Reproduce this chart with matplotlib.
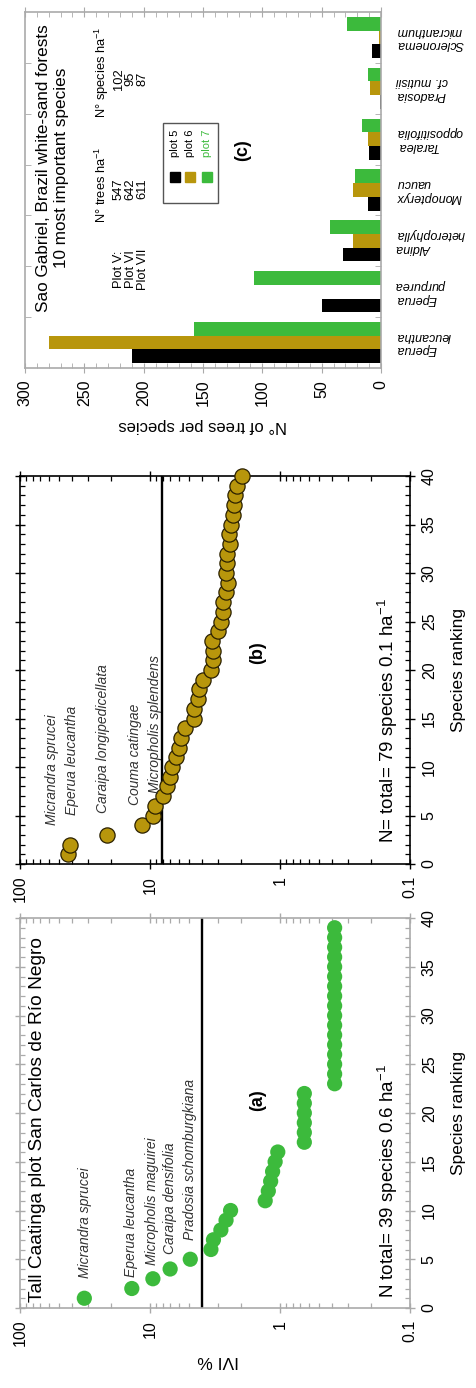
import matplotlib.pyplot as plt
import numpy as np
from matplotlib.ticker import FixedLocator, LogLocator, MultipleLocator
from matplotlib.patches import Rectangle

plt.rcParams['font.family'] = ['Liberation Sans', 'DejaVu Sans']
plt.rcParams['mathtext.fontset'] = 'custom'
plt.rcParams['mathtext.rm'] = 'Liberation Sans'
plt.rcParams['mathtext.it'] = 'Liberation Sans:italic'

# (a) Tall Caatinga plot, San Carlos de Rio Negro
rank_a = np.arange(1, 40)
ivi_a = [32, 13.8, 9.5, 7.0, 4.9, 3.4, 3.25, 2.85, 2.6, 2.4,
         1.3, 1.23, 1.18, 1.14, 1.09, 1.04,
         0.65, 0.65, 0.65, 0.65, 0.65, 0.65,
         0.38, 0.38, 0.38, 0.38, 0.38, 0.38, 0.38, 0.38, 0.38,
         0.38, 0.38, 0.38, 0.38, 0.38, 0.38, 0.38, 0.38]
ref_a = 4.0
names_a = ['Micrandra sprucei', 'Eperua leucantha', 'Micropholis maguirei',
           'Caraipa densifolia', 'Pradosia schomburgkiana']

# (b) Sao Gabriel
rank_b = np.arange(1, 41)
ivi_b = [42.5, 41.3, 21.3, 11.6, 9.4, 9.15, 8.0, 7.45, 7.0, 6.8,
         6.3, 5.95, 5.78, 5.38, 4.59, 4.59, 4.25, 4.2, 3.93, 3.41,
         3.26, 3.26, 3.32, 2.98, 2.86, 2.76, 2.76, 2.62, 2.53, 2.6,
         2.57, 2.55, 2.42, 2.45, 2.40, 2.28, 2.26, 2.22, 2.15, 1.97]
ref_b = 8.1
names_b = ['Micrandra sprucei', 'Eperua leucantha', 'Caraipa longipedicellata',
           'Couma catingae', 'Micropholis splendens']

# (c) 10 most important species
species_c = ['Eperua\nleucantha', 'Eperua\npurpurea', 'Aldina\nheterophylla',
             'Monopteryx\nuaucu', 'Taralea\noppositifolia', 'Pradosia\ncf. mutisii',
             'Scleronema\nmicranthum']
plot5 = [210, 50, 32, 11, 10, 1, 8]
plot6 = [280, 0, 24, 24, 11, 9, 2]
plot7 = [158, 107, 43, 22, 16, 11, 29]
plot_labels = ['plot 5', 'plot 6', 'plot 7']
plots = ['Plot V:', 'Plot VI', 'Plot VII']
trees_ha = [547, 642, 611]
species_ha = [102, 95, 87]

green = '#3cba3c'
gold = '#b8960c'

W, H = 476, 1388
fig = plt.figure(figsize=(W / 100, H / 100), dpi=100)


def box(x0, y0, x1, y1):
    # pixel box (top-left origin) -> figure fraction
    return [x0 / W, 1 - y1 / H, (x1 - x0) / W, (y1 - y0) / H]


def ivi_panel(ax, ranks, ivi, ref, spine_col, names, name_pos, tag, ntext):
    ax.axvline(ref, color='black', lw=1.7, zorder=2)
    if spine_col == 'black':
        ax.scatter(ivi, ranks, s=120, c=gold, edgecolors='#2a2000', linewidths=0.9,
                   zorder=3, clip_on=False)
    else:
        ax.scatter(ivi, ranks, s=120, c=green, edgecolors='none', zorder=3, clip_on=False)
    ax.set_xscale('log')
    ax.set_xlim(100, 0.1)
    ax.set_ylim(0, 40)
    ax.xaxis.set_major_locator(FixedLocator([0.1, 1, 10, 100]))
    ax.set_xticklabels(['0.1', '1', '10', '100'])
    ax.xaxis.set_minor_locator(LogLocator(base=10, subs=np.arange(2, 10)))
    ax.yaxis.set_major_locator(MultipleLocator(5))
    ax.yaxis.set_minor_locator(MultipleLocator(1))
    ax.tick_params(which='major', direction='inout', length=7, width=1,
                   top=True, bottom=True, left=True, right=True,
                   labelleft=False, labelright=True, labelsize=11.5,
                   color=spine_col, pad=5)
    ax.tick_params(which='minor', direction='in', length=3.5, width=0.9,
                   top=True, bottom=True, left=True, right=True, color=spine_col)
    ax.tick_params(axis='x', labelrotation=90)
    ax.tick_params(axis='y', labelrotation=90)
    for t in ax.get_yticklabels():
        t.set_va('center')
    for s in ax.spines.values():
        s.set_color(spine_col)
        s.set_linewidth(1.2)
    for nm, (xv, yv) in zip(names, name_pos):
        ax.text(xv, yv, nm, rotation=90, style='italic', fontsize=10,
                ha='center', va='bottom', color='#333333')
    ax.text(0.61, tag[1], tag[0], transform=ax.transAxes, rotation=90,
            fontsize=13, fontweight='bold', ha='center', va='center')
    ax.text(0.944, ntext[1], ntext[0], transform=ax.transAxes, rotation=90,
            fontsize=13.5, ha='center', va='bottom')
    ax.yaxis.set_label_position('right')
    ax.set_ylabel('Species ranking', rotation=90, fontsize=12.5, labelpad=10)


# panel (a)
ax_a = fig.add_axes(box(20, 918, 410, 1308))
ivi_panel(ax_a, rank_a, ivi_a, ref_a, '#aaaaaa', names_a,
          [(31.6, 3.1), (13.9, 3.2), (9.7, 4.4), (7.0, 5.5), (4.9, 7.0)],
          ('(a)', 0.533), (r'N total= 39 species 0.6 ha$^{-1}$', 0.026))
ax_a.text(0.044, 0.015, 'Tall Caatinga plot San Carlos de Río Negro',
          transform=ax_a.transAxes, rotation=90, fontsize=13.8,
          ha='center', va='bottom')
fig.text(218 / W, 1 - 1360 / H, 'IVI %', rotation=180, fontsize=12.5,
         ha='center', va='center')

# panel (b)
ax_b = fig.add_axes(box(20, 476, 410, 864))
ivi_panel(ax_b, rank_b, ivi_b, ref_b, 'black', names_b,
          [(56.7, 4.0), (40, 5.05), (23, 5.26), (13, 6.1), (9.2, 7.3)],
          ('(b)', 0.546), (r'N= total= 79 species 0.1 ha$^{-1}$', 0.054))

# panel (c)
ax_c = fig.add_axes(box(25, 12, 381, 368))
pos = np.arange(len(species_c))
bw = 0.27
ax_c.barh(pos - bw, plot5, height=bw, color='black', zorder=2)
ax_c.barh(pos, plot6, height=bw, color=gold, zorder=2)
ax_c.barh(pos + bw, plot7, height=bw, color=green, zorder=2)
ax_c.set_xlim(300, 0)
ax_c.set_ylim(-0.5, len(species_c) - 0.5)
ax_c.xaxis.set_major_locator(MultipleLocator(50))
ax_c.xaxis.set_minor_locator(MultipleLocator(10))
ax_c.set_yticks(pos)
ax_c.set_yticklabels(species_c)
ax_c.yaxis.set_minor_locator(FixedLocator(pos[:-1] + 0.5))
ax_c.tick_params(axis='y', which='major', length=0, left=False, right=True,
                 labelleft=False, labelright=True, labelsize=9, pad=11,
                 labelrotation=180)
ax_c.tick_params(axis='y', which='minor', direction='in', length=4, left=True,
                 right=True, color='#aaaaaa')
ax_c.tick_params(axis='x', which='major', direction='inout', length=7,
                 top=True, bottom=True, labelsize=11.5, labelrotation=90,
                 color='#aaaaaa', pad=5)
ax_c.tick_params(axis='x', which='minor', direction='in', length=3.5,
                 top=True, bottom=True, color='#aaaaaa')
for t in ax_c.get_yticklabels():
    t.set_style('italic')
    t.set_multialignment('right')
    t.set_va('center')
for s in ax_c.spines.values():
    s.set_color('#aaaaaa')
    s.set_linewidth(1.2)
ax_c.set_xlabel('N° of trees per species', rotation=180, fontsize=12, labelpad=8)

ax_c.text(0.077, 0.562, 'Sao Gabriel, Brazil white-sand forests\n10 most important species',
          transform=ax_c.transAxes, rotation=90, fontsize=12.3, ha='center',
          va='center', multialignment='center', linespacing=1.2)
small = dict(transform=ax_c.transAxes, rotation=90, fontsize=9.3, ha='center',
             va='bottom', linespacing=1.0)
ax_c.text(0.297, 0.219, '\n'.join(plots), **small)
ax_c.text(0.215, 0.406, r'N° trees ha$^{-1}$', **small)
ax_c.text(0.297, 0.472, '\n'.join(str(v) for v in trees_ha), **small)
ax_c.text(0.215, 0.702, r'N° species ha$^{-1}$', **small)
ax_c.text(0.297, 0.781, '\n'.join(str(v) for v in species_ha), **small)
ax_c.text(0.612, 0.612, '(c)', transform=ax_c.transAxes, rotation=90,
          fontsize=13, fontweight='bold', ha='center', va='center')

# hand-made legend, drawn sideways like the rest of the panel
ax_c.add_patch(Rectangle((0.388, 0.463), 0.154, 0.225, transform=ax_c.transAxes,
                         fill=False, edgecolor='#555555', lw=1.0, zorder=4))
for lx, col, lab in zip([0.421, 0.463, 0.511], ['black', gold, green], plot_labels):
    ax_c.add_patch(Rectangle((lx - 0.014, 0.523), 0.028, 0.028,
                             transform=ax_c.transAxes, color=col, zorder=5))
    ax_c.text(lx, 0.593, lab, transform=ax_c.transAxes, rotation=90, fontsize=8,
              ha='center', va='bottom', color='black' if col != green else green)

fig.savefig('out.png', dpi=100)
